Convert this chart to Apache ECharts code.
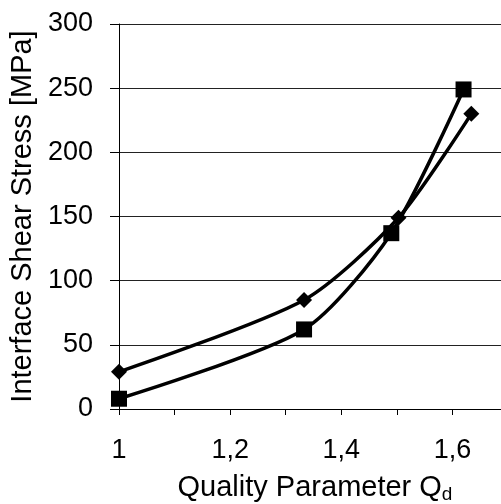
<!DOCTYPE html>
<html>
<head>
    <meta charset="utf-8"/>
    <style type="text/css">
        body, html {
            width: 100%;
            height: 100%;
            margin: 0;
            background: #fff;
        }
        #chart {
            width: 501px;
            height: 504px;
        }
    </style>
    <script src="https://cdn.jsdelivr.net/npm/echarts@6/dist/echarts.min.js"></script>
    <title>Interface Shear Stress</title>
</head>
<body>
<div id="chart"></div>
<script type="text/javascript">
    // data
    var squareX = [1, 1.333, 1.49, 1.62];
    var squareY = [8, 62, 137, 249];
    var diamondX = [1, 1.333, 1.503, 1.634];
    var diamondY = [29, 85, 149, 230];
    var xLabelValues = [1, 1.2, 1.4, 1.6];

    function pairs(xs, ys) {
        var out = [];
        for (var i = 0; i < xs.length; i++) out.push([xs[i], ys[i]]);
        return out;
    }

    var font = 'Liberation Sans';
    var myChart = echarts.init(document.getElementById('chart'));

    var option = {
        animation: false,
        grid: {left: 119, top: 24, right: 0, bottom: 95, outerBoundsMode: 'none'},
        xAxis: {
            type: 'value',
            min: 1,
            max: 1.6874,   // plot is cut at the right edge
            interval: 0.1,
            name: 'Quality Parameter Q{sub|d}',
            nameLocation: 'middle',
            nameGap: 62,
            nameTextStyle: {
                fontFamily: font, fontSize: 29, color: '#000', padding: [0, 0, 0, 10],
                rich: {sub: {fontFamily: font, fontSize: 19, color: '#000', lineHeight: 33, verticalAlign: 'bottom'}}
            },
            axisLine: {lineStyle: {color: '#000', width: 1}},
            axisTick: {length: 6, lineStyle: {color: '#000'}},
            splitLine: {show: false},
            axisLabel: {
                fontFamily: font, fontSize: 27, color: '#000', margin: 28,
                formatter: function (v) {
                    for (var i = 0; i < xLabelValues.length; i++) {
                        if (Math.abs(v - xLabelValues[i]) < 1e-6) return String(xLabelValues[i]).replace('.', ',');
                    }
                    return '';
                }
            }
        },
        yAxis: {
            type: 'value',
            min: 0,
            max: 300,
            interval: 50,
            name: 'Interface Shear Stress [MPa]',
            nameLocation: 'middle',
            nameGap: 70,
            nameTextStyle: {fontFamily: font, fontSize: 29, color: '#000'},
            axisLine: {show: true, lineStyle: {color: '#000', width: 1}},
            axisTick: {show: true, length: 9, lineStyle: {color: '#000'}},
            splitLine: {show: true, lineStyle: {color: '#222', width: 1}},
            axisLabel: {fontFamily: font, fontSize: 27, color: '#000', margin: 26}
        },
        series: [
            {
                type: 'line',
                data: pairs(squareX, squareY),
                smooth: 0.25,
                symbol: 'rect',
                symbolSize: 16,
                lineStyle: {color: '#000', width: 3.5},
                itemStyle: {color: '#000'}
            },
            {
                type: 'line',
                data: pairs(diamondX, diamondY),
                smooth: 0.25,
                symbol: 'diamond',
                symbolSize: 16,
                lineStyle: {color: '#000', width: 3.5},
                itemStyle: {color: '#000'}
            }
        ]
    };
    myChart.setOption(option);
</script>
</body>
</html>
